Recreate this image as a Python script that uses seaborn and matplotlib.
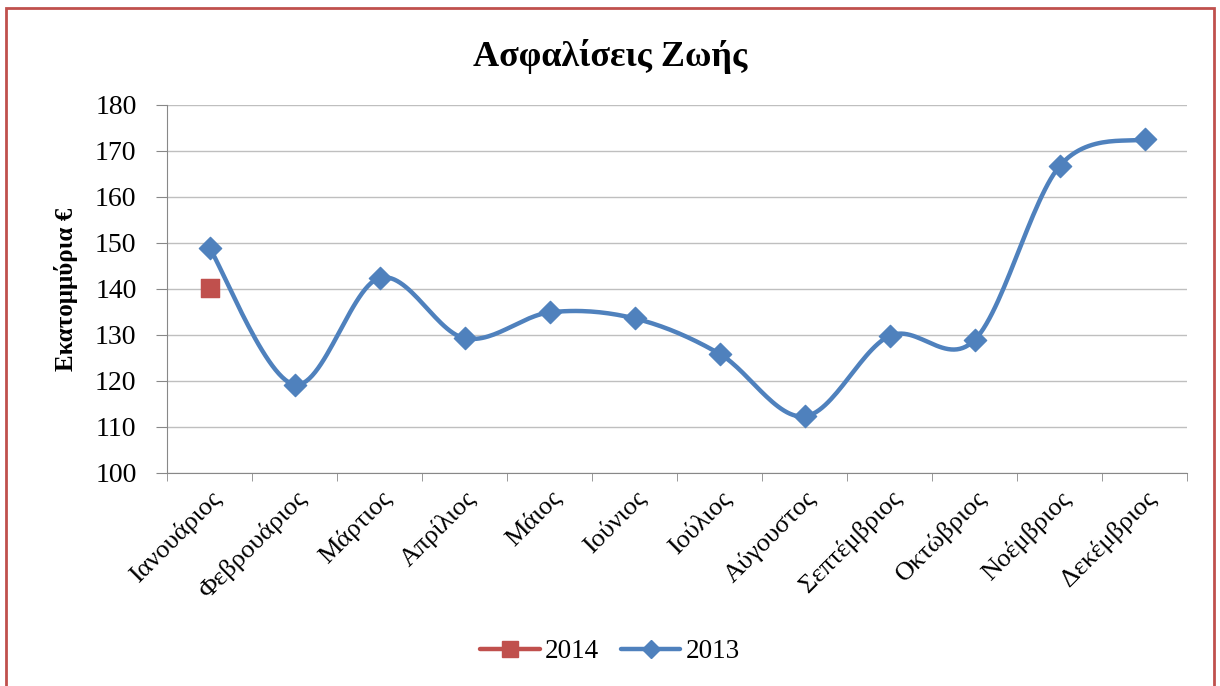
import numpy as np
import pandas as pd
import seaborn as sns
import matplotlib.pyplot as plt
from matplotlib.lines import Line2D
from matplotlib.patches import Rectangle

months = ["Ιανουάριος", "Φεβρουάριος", "Μάρτιος", "Απρίλιος", "Μάιος", "Ιούνιος",
          "Ιούλιος", "Αύγουστος", "Σεπτέμβριος", "Οκτώβριος", "Νοέμβριος", "Δεκέμβριος"]
values_2013 = [148.9, 119.2, 142.4, 129.3, 134.9, 133.6, 125.9, 112.3, 129.8, 128.9, 166.7, 172.6]
values_2014 = [140.2]

blue = "#4F81BD"
red = "#C0504D"

sns.set_style("white")
plt.rcParams["font.family"] = ["Liberation Serif", "DejaVu Serif"]
plt.rcParams["text.color"] = "black"
plt.rcParams["axes.labelcolor"] = "black"

# excel-like smoothed line (bezier through the points)
def smooth(xs, ys, n=30):
    pts = np.column_stack([xs, ys]).astype(float)
    out = []
    for i in range(len(pts) - 1):
        p0 = pts[max(i - 1, 0)]
        p1 = pts[i]
        p2 = pts[i + 1]
        p3 = pts[min(i + 2, len(pts) - 1)]
        c1 = p1 + (p2 - p0) / 6
        c2 = p2 - (p3 - p1) / 6
        t = np.linspace(0, 1, n)[:, None]
        seg = (1 - t) ** 3 * p1 + 3 * (1 - t) ** 2 * t * c1 + 3 * (1 - t) * t ** 2 * c2 + t ** 3 * p2
        out.append(seg if i == 0 else seg[1:])
    return np.vstack(out)

x = np.arange(len(months))
curve = smooth(x, values_2013)
df13 = pd.DataFrame({"x": x, "y": values_2013})
df14 = pd.DataFrame({"x": x[:len(values_2014)], "y": values_2014})

fig = plt.figure(figsize=(12.2, 6.86), dpi=100)
ax = fig.add_axes([0.137, 0.3105, 0.836, 0.5365])

sns.lineplot(x=curve[:, 0], y=curve[:, 1], sort=False, estimator=None, color=blue, lw=3.2, ax=ax)
sns.scatterplot(data=df13, x="x", y="y", marker="D", s=130, color=blue, edgecolor=blue, ax=ax, zorder=5)
sns.scatterplot(data=df14, x="x", y="y", marker="s", s=170, color=red, edgecolor=red, ax=ax, zorder=5)

ax.set_xlim(-0.5, len(months) - 0.5)
ax.set_ylim(100, 180)
ax.set_yticks(range(100, 181, 10))
ax.tick_params(axis="y", labelsize=20, length=8, color="#888888", labelcolor="black",
               direction="out", left=True, pad=14)
ax.set_xticks(x)
ax.set_xticklabels(months, rotation=45, ha="right", rotation_mode="anchor", fontsize=19)
ax.set_xticks(np.arange(-0.5, len(months)), minor=True)
ax.tick_params(axis="x", which="major", length=0, pad=10, labelcolor="black")
ax.tick_params(axis="x", which="minor", length=6, color="#888888", direction="out", bottom=True)
ax.grid(axis="y", color="#BFBFBF", lw=1)
for s in ["top", "right"]:
    ax.spines[s].set_visible(False)
for s in ["left", "bottom"]:
    ax.spines[s].set_color("#888888")
ax.set_xlabel("")
ax.set_ylabel("Εκατομμύρια €", fontsize=18, fontweight="bold", labelpad=12)

fig.text(0.5, 0.918, "Ασφαλίσεις Ζωής", ha="center", va="center", fontsize=26, fontweight="bold")

handles = [Line2D([], [], color=red, lw=3.2, marker="s", markersize=11),
           Line2D([], [], color=blue, lw=3.2, marker="D", markersize=9)]
fig.legend(handles, ["2014", "2013"], loc="center", bbox_to_anchor=(0.5, 0.05), ncol=2,
           frameon=False, fontsize=19.5, handlelength=2.2, columnspacing=0.8, handletextpad=0.2)

fig.add_artist(Rectangle((0.005, -0.01), 0.99, 0.998, transform=fig.transFigure, fill=False,
                         edgecolor=red, lw=2))

plt.savefig("out.png", dpi=100)
